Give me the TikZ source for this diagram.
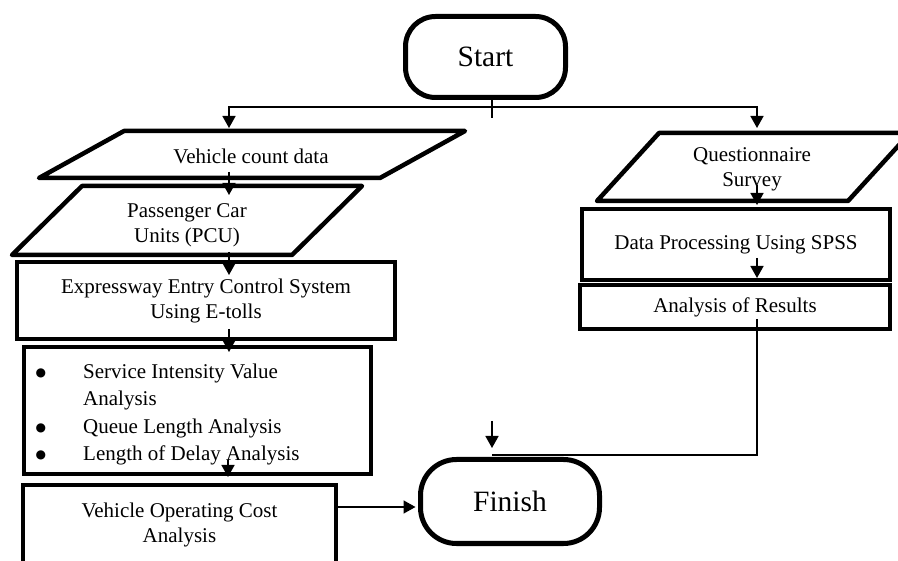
\documentclass[tikz,border=0pt]{standalone}
\usepackage{fontspec}
\setmainfont{Liberation Serif}
\newfontfamily\symfont{DejaVu Sans}
\usetikzlibrary{arrows.meta}
\newcommand{\bigbullet}{\makebox[50pt][l]{\hspace{2.5pt}\raisebox{1.5pt}{\symfont\fontsize{12}{12}\selectfont ●}}}
\begin{document}
\begin{tikzpicture}[x=1pt,y=-1pt,
  shapeline/.style={draw, line width=4.5pt, line join=round},
  termbox/.style={draw, line width=5pt, inner sep=0pt},
  procbox/.style={draw, line width=4.5pt, inner sep=0pt},
  txt/.style={font=\fontsize{21}{25}\selectfont, align=center, inner sep=0pt},
  bigtxt/.style={font=\fontsize{29.5}{34}\selectfont, inner sep=0pt},
  link/.style={line width=1.6pt},
  arr/.style={link, -{Triangle[width=13pt,length=12pt]}}
]
\useasboundingbox (0,0) rectangle (898,561);
\clip (0,0) rectangle (898,561);

% terminators
\node[termbox, rounded corners=30pt, minimum width=160pt, minimum height=81pt, bigtxt] (start) at (485.5,57) {Start};
\node[termbox, rounded corners=36pt, minimum width=179pt, minimum height=84pt, bigtxt] (finish) at (510,501.5) {Finish};

% input data (parallelograms)
\draw[shapeline] (39,178) -- (124,131) -- (465,131) -- (380,178) -- cycle;
\node[txt] (vcd) at (251,156) {Vehicle count data};

\draw[shapeline] (12,255) -- (82,186) -- (362,186) -- (292,255) -- cycle;
\node[txt] (pcu) at (187,225.5) {Passenger Car\\Units (PCU)};

\draw[shapeline] (597,201) -- (659,133) -- (910,133) -- (848,201) -- cycle;
\node[txt] (qs) at (752,169.5) {Questionnaire\\Survey};

% process boxes
\node[procbox, minimum width=378pt, minimum height=77pt, txt] (ecs) at (206,300.5) {Expressway Entry Control System\\Using E-tolls};

\node[procbox, minimum width=347pt, minimum height=127pt] (ana) at (197.5,410.5) {};
\node[txt, align=left, anchor=north west, font=\fontsize{21}{27.3}\selectfont] (anatxt) at (33,363.7)
  {\bigbullet Service Intensity Value\\
   \hspace*{50pt}Analysis\\
   \bigbullet Queue Length Analysis\\
   \bigbullet Length of Delay Analysis};

\node[procbox, minimum width=313pt, minimum height=80pt, txt] (voc) at (179.5,525) {Vehicle Operating Cost\\Analysis};

\node[procbox, minimum width=308pt, minimum height=71pt, txt] (dps) at (736,244.5) {Data Processing Using SPSS};
\node[procbox, minimum width=310pt, minimum height=44pt, txt] (res) at (735,307) {Analysis of Results};

% connector end points
\coordinate (fork) at (492,107);
\coordinate (stub) at (492,118);
\coordinate (vcdin) at (229,128);
\coordinate (qsin) at (757,128);
\coordinate (vcdout) at (229,172);
\coordinate (pcuin) at (229,195);
\coordinate (pcuout) at (229,252);
\coordinate (ecsin) at (229,275);
\coordinate (ecsout) at (229,329);
\coordinate (anain) at (229,352);
\coordinate (anaout) at (228,460);
\coordinate (vocin) at (228,477);
\coordinate (vocout) at (338,507);
\coordinate (qsout) at (757,185);
\coordinate (dpsin) at (757,205);
\coordinate (dpsout) at (757,258);
\coordinate (resin) at (757,278);
\coordinate (resout) at (757,319);
\coordinate (finin) at (492,455);
\coordinate (freeA) at (492,421);
\coordinate (freeB) at (492,448);

% connectors
\draw[link] (start.south -| fork) -- (stub);
\draw[arr] (fork) -| (vcdin);
\draw[arr] (fork) -| (qsin);
\draw[arr] (vcdout) -- (pcuin);
\draw[arr] (pcuout) -- (ecsin);
\draw[arr] (ecsout) -- (anain);
\draw[arr] (anaout) -- (vocin);
\draw[arr] (vocout) -- ([xshift=-2.5pt]finish.west |- vocout);
\draw[arr] (qsout) -- (dpsin);
\draw[arr] (dpsout) -- (resin);
\draw[link] (resout) |- (finin);
\draw[arr] (freeA) -- (freeB);
\end{tikzpicture}
\end{document}
